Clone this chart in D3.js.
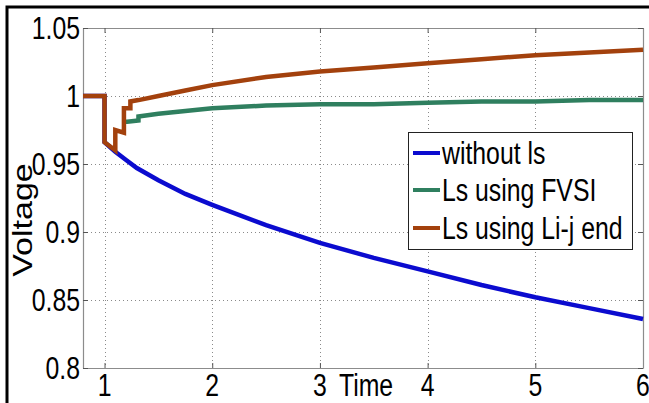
<!DOCTYPE html>
<html><head><meta charset="utf-8">
<script src="https://cdn.jsdelivr.net/npm/d3@7"></script>
<style>html,body{margin:0;padding:0;background:#fff;}svg{display:block;}</style>
</head><body>
<script>
// ---- data ----
const xTicks = [1, 2, 3, 4, 5, 6];
const yTicks = [0.8, 0.85, 0.9, 0.95, 1, 1.05];
const yTickLabels = ["0.8", "0.85", "0.9", "0.95", "1", "1.05"];
const seriesNames = ["without ls", "Ls using FVSI", "Ls using Li-j end"];
const seriesColors = ["#0b0bcf", "#2f7f5f", "#a3410d"];

const withoutLsX = [0.8, 1.0, 1.0, 1.1, 1.2, 1.3, 1.5, 1.75, 2, 2.5, 3, 3.5, 4, 4.5, 5, 5.5, 6];
const withoutLsY = [1.0, 1.0, 0.966, 0.959, 0.953, 0.947, 0.938, 0.928, 0.920, 0.905, 0.892, 0.881, 0.871, 0.861, 0.852, 0.844, 0.836];

const fvsiX = [1.18, 1.21, 1.315, 1.315, 1.5, 1.75, 2, 2.5, 3, 3.5, 4, 4.5, 5, 5.5, 6];
const fvsiY = [0.981, 0.981, 0.982, 0.985, 0.987, 0.989, 0.991, 0.993, 0.994, 0.994, 0.995, 0.996, 0.996, 0.997, 0.997];

const lijX = [0.8, 1.0, 1.0, 1.1, 1.1, 1.18, 1.18, 1.24, 1.24, 1.315, 1.5, 1.75, 2, 2.5, 3, 3.5, 4, 4.5, 5, 5.5, 6];
const lijY = [1.0, 1.0, 0.966, 0.960, 0.975, 0.973, 0.991, 0.991, 0.996, 0.997, 1.0, 1.004, 1.008, 1.014, 1.018, 1.021, 1.024, 1.027, 1.030, 1.032, 1.034];

const W = 649, H = 403;
const m = {left: 83, top: 28, right: 6, bottom: 35};
const pw = W - m.left - m.right, ph = H - m.top - m.bottom;

const svg = d3.select("body").append("svg").attr("width", W).attr("height", H);
svg.append("rect").attr("width", W).attr("height", H).attr("fill", "#fff");
// outer frame (top & left visible)
svg.append("rect").attr("x", 7).attr("y", 7).attr("width", W + 20).attr("height", H + 20)
  .attr("fill", "none").attr("stroke", "#000").attr("stroke-width", 3);

const x = d3.scaleLinear().domain([0.8, 6]).range([m.left, m.left + pw]);
const y = d3.scaleLinear().domain([0.8, 1.05]).range([m.top + ph, m.top]);

const FONT = "'Liberation Sans', Arial, sans-serif";
const SX = 0.8;
const FS = 31;

// grid
const grid = svg.append("g").attr("stroke", "#8a8a8a").attr("stroke-width", 1).attr("stroke-dasharray", "1,3");
grid.selectAll("line.vx").data(xTicks).join("line")
  .attr("x1", d => Math.round(x(d)) + 0.5).attr("x2", d => Math.round(x(d)) + 0.5)
  .attr("y1", m.top).attr("y2", m.top + ph);
grid.selectAll("line.hy").data(yTicks.filter(d => d > 0.8 && d < 1.05)).join("line")
  .attr("y1", d => Math.round(y(d)) + 0.5).attr("y2", d => Math.round(y(d)) + 0.5)
  .attr("x1", m.left).attr("x2", m.left + pw);

// axes via d3 axis (ticks inside)
const axB = svg.append("g").attr("transform", `translate(0,${m.top + ph})`)
  .call(d3.axisBottom(x).tickValues(xTicks).tickSizeInner(-5).tickSizeOuter(0).tickFormat(""));
const axT = svg.append("g").attr("transform", `translate(0,${m.top})`)
  .call(d3.axisTop(x).tickValues(xTicks).tickSizeInner(-5).tickSizeOuter(0).tickFormat(""));
const axL = svg.append("g").attr("transform", `translate(${m.left},0)`)
  .call(d3.axisLeft(y).tickValues(yTicks).tickSizeInner(-5).tickSizeOuter(0).tickFormat(""));
const axR = svg.append("g").attr("transform", `translate(${m.left + pw},0)`)
  .call(d3.axisRight(y).tickValues(yTicks).tickSizeInner(-5).tickSizeOuter(0).tickFormat(""));
[axB, axT, axL, axR].forEach(a => {
  a.select(".domain").attr("stroke", "#8c8c8c").attr("stroke-width", 1.2);
  a.selectAll(".tick line").attr("stroke", "#555");
});

// lines
const line = d3.line().x(d => x(d[0])).y(d => y(d[1]));
const series = [
  d3.zip(withoutLsX, withoutLsY),
  d3.zip(fvsiX, fvsiY),
  d3.zip(lijX, lijY)
];
series.forEach((s, i) => {
  svg.append("path").datum(s).attr("d", line).attr("fill", "none")
    .attr("stroke", seriesColors[i]).attr("stroke-width", 4.5).attr("stroke-linejoin", "miter");
});

// tick labels
function ctext(px, py, str, anchor, size) {
  return svg.append("text").attr("transform", `translate(${px},${py}) scale(${SX},1)`)
    .attr("text-anchor", anchor).attr("font-family", FONT).attr("font-size", size)
    .attr("fill", "#000").text(str);
}
yTicks.forEach((v, i) => ctext(80, y(v) + 11, yTickLabels[i], "end", FS));
xTicks.forEach(v => ctext(x(v), 396, String(v), "middle", FS));
ctext(366, 396, "Time", "middle", FS);
svg.append("text").attr("transform", `translate(32,220) rotate(-90) scale(1,${SX})`)
  .attr("text-anchor", "middle").attr("font-family", FONT).attr("font-size", 34).text("Voltage");

// legend
const lg = svg.append("g");
lg.append("rect").attr("x", 408.5).attr("y", 132.5).attr("width", 224).attr("height", 117)
  .attr("fill", "#fff").attr("stroke", "#222").attr("stroke-width", 1);
const rowY = [153, 190, 228];
seriesNames.forEach((n, i) => {
  lg.append("line").attr("x1", 413).attr("x2", 440).attr("y1", rowY[i]).attr("y2", rowY[i])
    .attr("stroke", seriesColors[i]).attr("stroke-width", 4);
  ctext(442, rowY[i] + 11, n, "start", FS);
});
</script>
</body></html>
